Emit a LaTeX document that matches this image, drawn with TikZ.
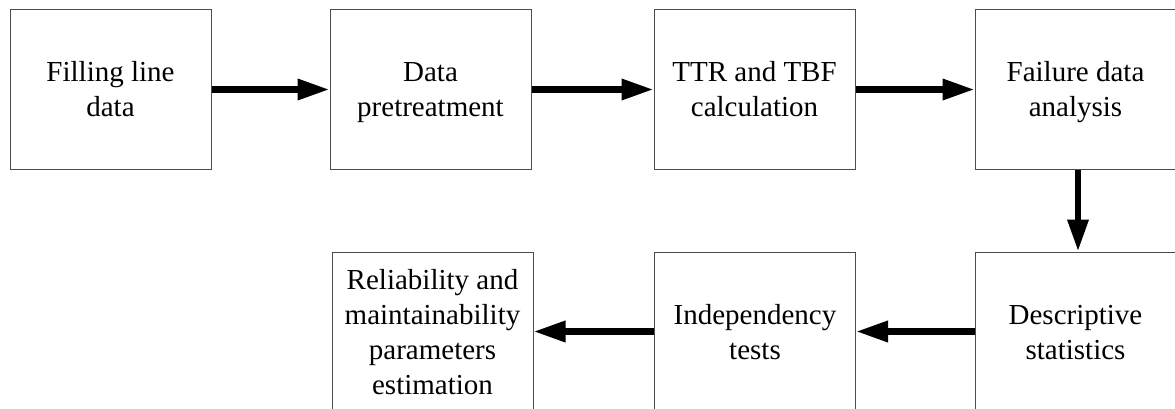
\documentclass[tikz,border=0pt]{standalone}
\usepackage{fontspec}
\setmainfont{Liberation Serif}
\usetikzlibrary{arrows.meta}
\begin{document}
\begin{tikzpicture}[x=1pt,y=-1pt,
  stepbox/.style={draw=black!70, line width=1pt, minimum width=201pt,
    minimum height=159pt, inner sep=0pt},
  label/.style={inner sep=0pt, align=center, font=\fontsize{29}{35}\selectfont},
  flow/.style={line width=6.5pt, -{Triangle[length=32pt,width=20pt]}}]
  \clip (0,0) rectangle (1175,409);
  % top row
  \node[stepbox] (fill) at (110.5,89.5) {};
  \node[stepbox] (pre)  at (430.5,89.5) {};
  \node[stepbox] (ttr)  at (754.5,89.5) {};
  \node[stepbox] (fda)  at (1075.5,89.5) {};
  % bottom row
  \node[stepbox] (desc) at (1075.5,331.5) {};
  \node[stepbox] (ind)  at (755,331.5) {};
  \node[stepbox] (rel)  at (432.5,331.5) {};
  % box texts
  \node[label] (fillt) at ([yshift=-3pt]fill.center) {\strut Filling line\\data\strut};
  \node[label] (pret)  at ([yshift=-3pt]pre.center)  {\strut Data\\pretreatment\strut};
  \node[label] (ttrt)  at ([yshift=-3pt]ttr.center)  {\strut TTR and TBF\\calculation\strut};
  \node[label] (fdat)  at ([yshift=-3pt]fda.center)  {\strut Failure data\\analysis\strut};
  \node[label] (desct) at ([yshift=-3pt]desc.center) {\strut Descriptive\\statistics\strut};
  \node[label] (indt)  at ([yshift=-3pt]ind.center)  {\strut Independency\\tests\strut};
  \node[label] (relt)  at ([yshift=-3pt]rel.center)  {\strut Reliability and\\maintainability\\parameters\\estimation\strut};
  % connectors
  \draw[flow] (fill.east) -- (pre.west);
  \draw[flow] (pre.east) -- (ttr.west);
  \draw[flow] (ttr.east) -- (fda.west);
  \draw[flow] ([xshift=2.5pt]fda.south) -- ([xshift=2.5pt]desc.north);
  \draw[flow] (desc.west) -- (ind.east);
  \draw[flow] (ind.west) -- (rel.east);
\end{tikzpicture}
\end{document}
